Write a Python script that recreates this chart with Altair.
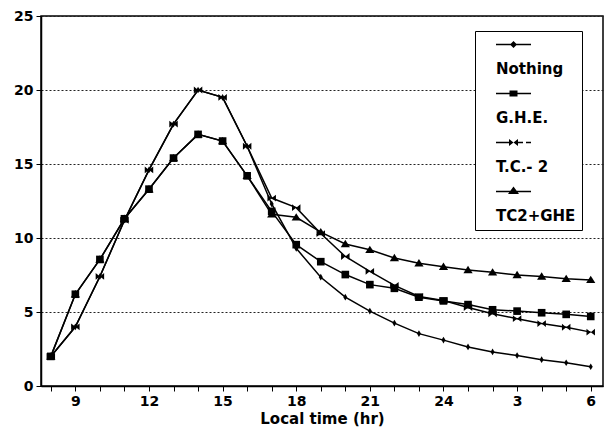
import altair as alt
import pandas as pd

hours = list(range(8, 31))
series_names = ["Nothing", "G.H.E.", "T.C.- 2", "TC2+GHE"]
nothing = [2.0, 4.0, 7.4, 11.2, 14.6, 17.7, 20.0, 19.5, 16.2, 12.3, 9.3, 7.35, 6.0, 5.06, 4.25, 3.54, 3.1, 2.64, 2.3, 2.06, 1.78, 1.57, 1.3]
ghe = [2.0, 6.2, 8.55, 11.3, 13.3, 15.4, 17.0, 16.55, 14.2, 11.8, 9.55, 8.4, 7.53, 6.85, 6.6, 6.0, 5.75, 5.5, 5.15, 5.06, 4.95, 4.84, 4.7]
tc2 = [2.0, 4.0, 7.4, 11.2, 14.6, 17.7, 20.0, 19.5, 16.2, 12.7, 12.05, 10.3, 8.75, 7.75, 6.8, 6.05, 5.78, 5.3, 4.88, 4.55, 4.22, 3.97, 3.64]
tc2ghe = [2.0, 6.2, 8.55, 11.3, 13.3, 15.4, 17.0, 16.55, 14.2, 11.6, 11.4, 10.4, 9.6, 9.2, 8.65, 8.3, 8.06, 7.84, 7.68, 7.5, 7.4, 7.24, 7.17]
y_ticks = [0, 5, 10, 15, 20, 25]

rows = []
for name, vals in zip(series_names, [nothing, ghe, tc2, tc2ghe]):
    for h, v in zip(hours, vals):
        rows.append({"series": name, "hour": h, "value": v})
df = pd.DataFrame(rows)

marker_paths = [
    "M0,-1L0.6,0L0,1L-0.6,0Z",
    "square",
    "M-1,-0.8L0,0L-1,0.8Z M1,-0.8L0,0L1,0.8Z",
    "M0,-0.9L1,0.7L-1,0.7Z",
]
marker_sizes = [45, 85, 100, 150]

# legend glyphs: drawn in px from the label's left edge, converted to symbol
# units (symbolSize 16 -> 2 px per unit; symbol centre sits 7.5 px left of label)
def poly(points):
    return "M" + "L".join(f"{x / 2 + 3.75:.3f},{y / 2:.3f}" for x, y in points) + "Z"

def hbar(x0, x1):
    return poly([(x0, -0.8), (x1, -0.8), (x1, 0.8), (x0, 0.8)])

legend_paths = [
    hbar(0, 35) + poly([(17.5, -3.5), (21, 0), (17.5, 3.5), (14, 0)]),
    hbar(0, 35) + poly([(13.5, -3), (21.5, -3), (21.5, 3), (13.5, 3)]),
    hbar(0, 14) + hbar(22, 27) + hbar(30, 35)
    + poly([(13, -3.5), (17.5, 0), (13, 3.5)]) + poly([(22, -3.5), (17.5, 0), (22, 3.5)]),
    hbar(0, 35) + poly([(17.5, -5), (23, 2.5), (12, 2.5)]),
]

FONT = "DejaVu Sans"

x_enc = alt.X(
    "hour:Q",
    scale=alt.Scale(domain=[7.6, 30.5], nice=False, zero=False),
    axis=alt.Axis(
        values=hours,
        labelExpr="datum.value % 3 == 0 ? (datum.value > 24 ? datum.value - 24 : datum.value) : ''",
        grid=False,
        tickSize=5,
        tickColor="black",
        domainColor="black",
        domainWidth=1.5,
        labelFont=FONT,
        labelFontWeight="bold",
        labelFontSize=14,
        labelColor="black",
        labelPadding=3,
        labelOverlap=False,
        labelFlush=False,
        title="Local time (hr)",
        titleFont=FONT,
        titleFontWeight="bold",
        titleFontSize=15,
        titleColor="black",
        titlePadding=3,
    ),
)
y_enc = alt.Y(
    "value:Q",
    scale=alt.Scale(domain=[0, 25], nice=False),
    axis=alt.Axis(
        values=y_ticks,
        grid=True,
        gridDash=[2, 2],
        gridColor="#222222",
        gridWidth=1,
        tickSize=5,
        tickColor="black",
        domainColor="black",
        domainWidth=1.5,
        labelFont=FONT,
        labelFontWeight="bold",
        labelFontSize=14,
        labelColor="black",
        labelPadding=3,
        title=None,
    ),
)

base = alt.Chart(df).encode(x=x_enc, y=y_enc)

lines = base.mark_line(color="black", strokeWidth=1.5).encode(
    detail=alt.Detail("series:N")
)

points = base.mark_point(filled=True, color="black", opacity=1).encode(
    shape=alt.Shape("series:N", scale=alt.Scale(domain=series_names, range=marker_paths), legend=None),
    size=alt.Size("series:N", scale=alt.Scale(domain=series_names, range=marker_sizes), legend=None),
)

legend_layer = base.mark_point(filled=True, color="black", opacity=0).encode(
    shape=alt.Shape(
        "series:N",
        scale=alt.Scale(domain=series_names, range=legend_paths),
        legend=alt.Legend(
            title=None,
            orient="none",
            legendX=434,
            legendY=15,
            direction="vertical",
            symbolSize=16,
            symbolFillColor="black",
            symbolStrokeColor="black",
            symbolStrokeWidth=0,
            symbolOpacity=1,
            labelFont=FONT,
            labelFontWeight="bold",
            labelFontSize=15,
            labelColor="black",
            labelOffset=0,
            labelBaseline="top",
            labelExpr="['', datum.label]",
            labelLimit=200,
            strokeColor="black",
            fillColor="white",
            padding=6,
            rowPadding=9,
        ),
    )
)

chart = (
    alt.layer(lines, points, legend_layer)
    .resolve_scale(shape="independent", size="independent")
    .properties(
        width=562,
        height=370,
        autosize=alt.AutoSizeParams(type="none"),
        padding={"left": 33, "top": 8, "right": 3, "bottom": 45},
        background="white",
    )
    .configure_view(stroke="black", strokeWidth=1.5)
)

chart.save("out.html", embed_options={"renderer": "svg", "actions": False})
